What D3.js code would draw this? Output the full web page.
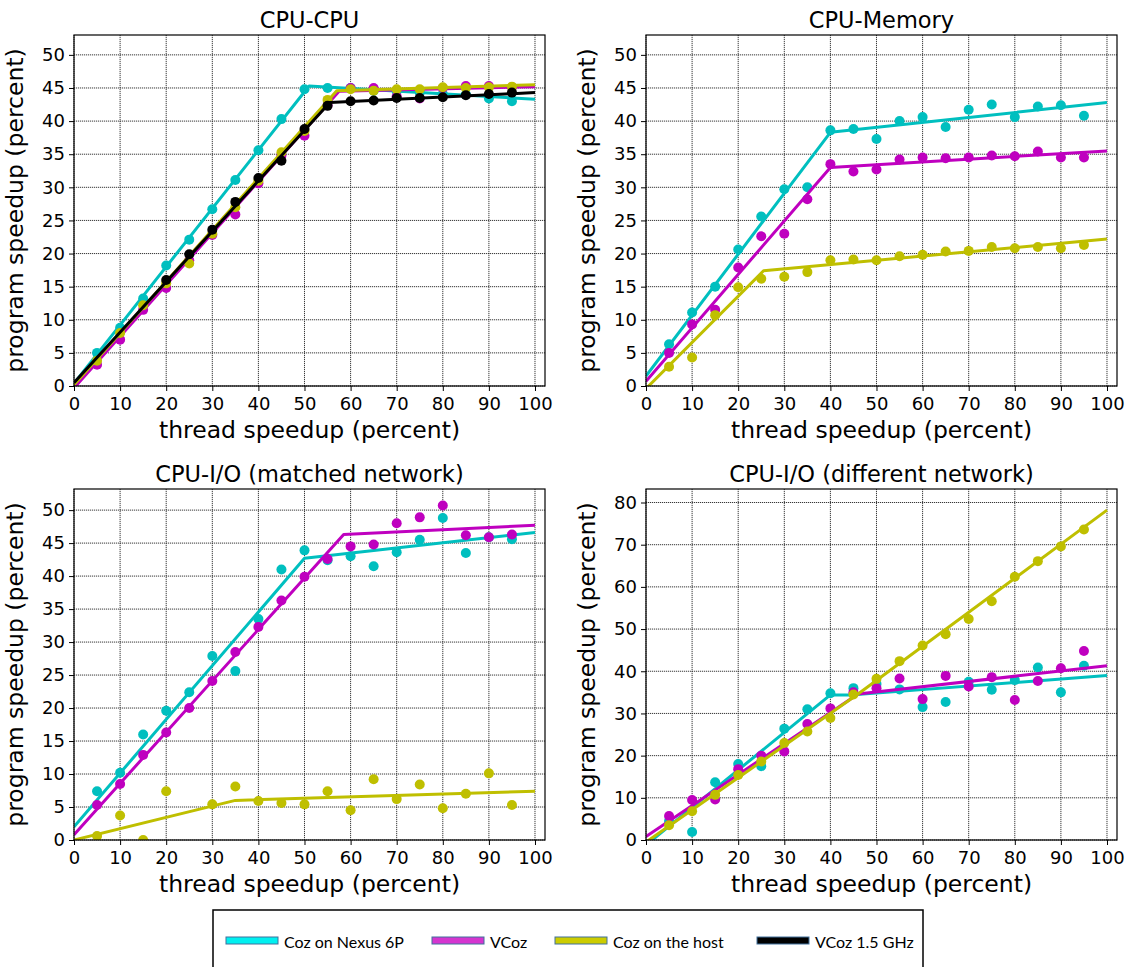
<!DOCTYPE html>
<html>
<head>
<meta charset="UTF-8">
<title>Coz / VCoz speedup</title>
<script src="https://cdn.jsdelivr.net/npm/d3@7"></script>
<style type="text/css">
	body { margin:0; background-color:white; }
	svg text { font-family:'DejaVu Sans', sans-serif; fill:black; }
	svg text.leg { font-family:Lato, 'Liberation Sans', sans-serif; }
</style>
</head>
<body>
<script type="text/javascript">

// thread speedup (x) for every measured point
var threadSpeedup = [5,10,15,20,25,30,35,40,45,50,55,60,65,70,75,80,85,90,95];
var xTicks = [0,10,20,30,40,50,60,70,80,90,100];

// CPU-CPU
var cpuCpuNexus  = [5.0,8.8,13.2,18.2,22.1,26.7,31.1,35.6,40.3,44.8,45.0,45.0,44.6,44.5,44.3,44.1,44.0,43.4,43.0];
var cpuCpuVcoz   = [3.2,7.0,11.5,14.8,19.0,22.8,25.9,30.6,34.8,37.8,42.4,45.0,45.0,43.7,43.4,45.0,45.3,45.3,45.1];
var cpuCpuHost   = [3.8,8.0,12.2,15.5,18.5,23.0,27.0,31.0,35.3,38.5,43.2,44.8,44.6,44.8,44.8,45.1,45.0,45.1,45.2];
var cpuCpuVcoz15 = [null,null,null,16.0,19.9,23.6,27.8,31.4,34.0,38.8,42.3,43.0,43.1,43.5,43.5,43.6,43.9,44.1,44.3];
// fitted lines: breakpoints x / y
var cpuCpuFitNexusX = [0,51,100],   cpuCpuFitNexusY = [0.4,45.3,43.3];
var cpuCpuFitVcozX = [0,57.5,100],  cpuCpuFitVcozY = [-0.3,44.5,45.2];
var cpuCpuFitHostX = [0,57,100],    cpuCpuFitHostY = [0.2,44.6,45.5];
var cpuCpuFitVcoz15X = [0,55.5,100],cpuCpuFitVcoz15Y = [0.5,42.8,44.3];

// CPU-Memory
var cpuMemNexus = [6.3,11.1,15.0,20.6,25.6,29.7,30.0,38.6,38.8,37.3,40.0,40.6,39.1,41.7,42.5,40.6,42.2,42.4,40.8];
var cpuMemVcoz  = [5.0,9.3,11.5,17.9,22.6,23.0,28.2,33.5,32.4,32.7,34.2,34.5,34.4,34.5,34.8,34.7,35.4,34.5,34.5];
var cpuMemHost  = [2.9,4.3,10.7,14.9,16.2,16.5,17.2,19.0,19.1,19.0,19.6,19.8,20.3,20.4,21.0,20.8,21.0,20.8,21.3];
var cpuMemFitNexusX = [0,40,100],  cpuMemFitNexusY = [1.5,38.3,42.8];
var cpuMemFitVcozX = [0,40,100],   cpuMemFitVcozY = [0.7,33.0,35.5];
var cpuMemFitHostX = [0,25.5,100], cpuMemFitHostY = [-0.4,17.4,22.2];

// CPU-I/O (matched network)
var ioMatchNexus = [7.4,10.2,16.0,19.6,22.4,27.9,25.6,33.5,41.0,43.9,42.4,43.0,41.5,43.6,45.5,48.8,43.5,45.9,45.6];
var ioMatchVcoz  = [5.3,8.5,12.9,16.3,20.0,24.1,28.5,32.3,36.3,39.9,42.6,44.5,44.8,48.0,48.9,50.7,46.2,45.9,46.3];
var ioMatchHost  = [0.6,3.7,0.0,7.4,null,5.4,8.1,5.9,5.6,5.4,7.4,4.5,9.2,6.2,8.4,4.8,7.0,10.1,5.3];
var ioMatchFitNexusX = [0,50,100],  ioMatchFitNexusY = [2.0,42.7,46.6];
var ioMatchFitVcozX = [0,58.5,100], ioMatchFitVcozY = [0.8,46.3,47.7];
var ioMatchFitHostX = [0,35,100],   ioMatchFitHostY = [0.0,6.0,7.4];

// CPU-I/O (different network)
var ioDiffNexus = [4.5,1.9,13.7,18.0,17.5,26.4,31.0,34.8,36.0,37.0,35.7,31.5,32.7,37.5,35.6,37.9,40.9,35.0,41.3];
var ioDiffVcoz  = [5.7,9.5,9.6,16.8,20.0,21.0,27.5,31.2,35.0,36.0,38.3,33.4,38.9,36.4,38.6,33.2,37.7,40.7,44.8];
var ioDiffHost  = [3.5,6.8,10.7,15.4,18.6,23.0,25.7,28.9,34.5,38.2,42.4,46.1,48.8,52.4,56.6,62.4,66.1,69.6,73.6];
var ioDiffFitNexusX = [0,40,45,100], ioDiffFitNexusY = [-1.2,34.4,34.4,39.0];
var ioDiffFitVcozX = [0,46,100],     ioDiffFitVcozY = [0.8,34.6,41.3];
var ioDiffFitHostX = [0,46,100],     ioDiffFitHostY = [-0.5,34.6,78.2];

var legendNames = ['Coz on Nexus 6P','VCoz','Coz on the host','VCoz 1.5 GHz'];
var legendColors = ['#00f0f0','#d535cf','#cccc00','#000000'];

var cNexus = '#00bfbf', cVcoz = '#bf00bf', cHost = '#bfbf00', cVcoz15 = '#000000';

var W = 1129, H = 967;
var svg = d3.select('body').append('svg').attr('width',W).attr('height',H);

//table of the four panels
var panels = [
	{title:'CPU-CPU', left:74, top:35, ymax:53, yTicks:d3.range(0,51,5), series:[
		{c:cNexus, v:cpuCpuNexus, fx:cpuCpuFitNexusX, fy:cpuCpuFitNexusY},
		{c:cVcoz, v:cpuCpuVcoz, fx:cpuCpuFitVcozX, fy:cpuCpuFitVcozY},
		{c:cHost, v:cpuCpuHost, fx:cpuCpuFitHostX, fy:cpuCpuFitHostY},
		{c:cVcoz15, v:cpuCpuVcoz15, fx:cpuCpuFitVcoz15X, fy:cpuCpuFitVcoz15Y}]},
	{title:'CPU-Memory', left:646, top:35, ymax:53, yTicks:d3.range(0,51,5), series:[
		{c:cNexus, v:cpuMemNexus, fx:cpuMemFitNexusX, fy:cpuMemFitNexusY},
		{c:cVcoz, v:cpuMemVcoz, fx:cpuMemFitVcozX, fy:cpuMemFitVcozY},
		{c:cHost, v:cpuMemHost, fx:cpuMemFitHostX, fy:cpuMemFitHostY}]},
	{title:'CPU-I/O (matched network)', left:74, top:489, ymax:53.2, yTicks:d3.range(0,51,5), series:[
		{c:cNexus, v:ioMatchNexus, fx:ioMatchFitNexusX, fy:ioMatchFitNexusY},
		{c:cVcoz, v:ioMatchVcoz, fx:ioMatchFitVcozX, fy:ioMatchFitVcozY},
		{c:cHost, v:ioMatchHost, fx:ioMatchFitHostX, fy:ioMatchFitHostY}]},
	{title:'CPU-I/O (different network)', left:646, top:489, ymax:83.2, yTicks:d3.range(0,81,10), series:[
		{c:cNexus, v:ioDiffNexus, fx:ioDiffFitNexusX, fy:ioDiffFitNexusY},
		{c:cVcoz, v:ioDiffVcoz, fx:ioDiffFitVcozX, fy:ioDiffFitVcozY},
		{c:cHost, v:ioDiffHost, fx:ioDiffFitHostX, fy:ioDiffFitHostY}]}
];

var pw = 471, ph = 351;

panels.forEach(function(p, k){
	var x = d3.scaleLinear().domain([0,102.17]).range([p.left, p.left+pw]);
	var y = d3.scaleLinear().domain([0,p.ymax]).range([p.top+ph, p.top]);
	var g = svg.append('g');

	g.append('clipPath').attr('id','clip'+k)
		.append('rect').attr('x',p.left).attr('y',p.top).attr('width',pw).attr('height',ph);

	//grid
	g.selectAll('.gx').data(xTicks).enter().append('line')
		.attr('x1',function(d){return x(d);}).attr('x2',function(d){return x(d);})
		.attr('y1',p.top).attr('y2',p.top+ph)
		.attr('stroke','#222').attr('stroke-width',0.9).attr('stroke-dasharray','1.2,0.8');
	g.selectAll('.gy').data(p.yTicks).enter().append('line')
		.attr('y1',function(d){return y(d);}).attr('y2',function(d){return y(d);})
		.attr('x1',p.left).attr('x2',p.left+pw)
		.attr('stroke','#222').attr('stroke-width',0.9).attr('stroke-dasharray','1.2,0.8');

	//data
	var plot = g.append('g').attr('clip-path','url(#clip'+k+')');
	var line = d3.line().x(function(d){return x(d[0]);}).y(function(d){return y(d[1]);});
	p.series.forEach(function(s){
		var pts = threadSpeedup.map(function(t,i){return [t, s.v[i]];})
			.filter(function(d){return d[1] !== null;});
		plot.selectAll(null).data(pts).enter().append('circle')
			.attr('cx',function(d){return x(d[0]);})
			.attr('cy',function(d){return y(d[1]);})
			.attr('r',5).attr('fill',s.c);
		plot.append('path')
			.datum(s.fx.map(function(v,i){return [v, s.fy[i]];}))
			.attr('d',line).attr('fill','none')
			.attr('stroke',s.c).attr('stroke-width',3).attr('stroke-linejoin','round');
	});

	//axes
	var ax = g.append('g').attr('transform','translate(0,'+(p.top+ph)+')')
		.call(d3.axisBottom(x).tickValues(xTicks).tickSize(5).tickPadding(6).tickSizeOuter(0));
	var ay = g.append('g').attr('transform','translate('+p.left+',0)')
		.call(d3.axisLeft(y).tickValues(p.yTicks).tickSize(5).tickPadding(4).tickSizeOuter(0));
	[ax, ay].forEach(function(a){
		a.select('.domain').remove();
		a.selectAll('line').attr('stroke','#000').attr('stroke-width',1);
		a.selectAll('text').attr('font-size',18).attr('font-family','DejaVu Sans').attr('fill','#000');
	});

	//frame
	g.append('rect').attr('x',p.left).attr('y',p.top).attr('width',pw).attr('height',ph)
		.attr('fill','none').attr('stroke','#000').attr('stroke-width',1.2);

	//texts
	g.append('text').attr('x',p.left+pw/2).attr('y',p.top-7)
		.attr('text-anchor','middle').attr('font-size',22.5).text(p.title);
	g.append('text').attr('x',p.left+pw/2).attr('y',p.top+ph+52)
		.attr('text-anchor','middle').attr('font-size',23.5).text('thread speedup (percent)');
	g.append('text')
		.attr('transform','translate('+(p.left-51)+','+(p.top+ph/2)+') rotate(-90)')
		.attr('text-anchor','middle').attr('font-size',23.5).text('program speedup (percent)');
});

//legend
var leg = svg.append('g');
leg.append('rect').attr('x',213).attr('y',910).attr('width',710).attr('height',80)
	.attr('fill','white').attr('stroke','#000').attr('stroke-width',1.5);
var legX = [226,432,555,757];
legendNames.forEach(function(n,i){
	leg.append('rect').attr('x',legX[i]).attr('y',937).attr('width',52).attr('height',7)
		.attr('fill',legendColors[i]).attr('stroke','#41719c').attr('stroke-width',1);
	leg.append('text').attr('class','leg').attr('x',legX[i]+58).attr('y',947.5)
		.attr('font-size',16).text(n);
});

</script>
</body>
</html>
